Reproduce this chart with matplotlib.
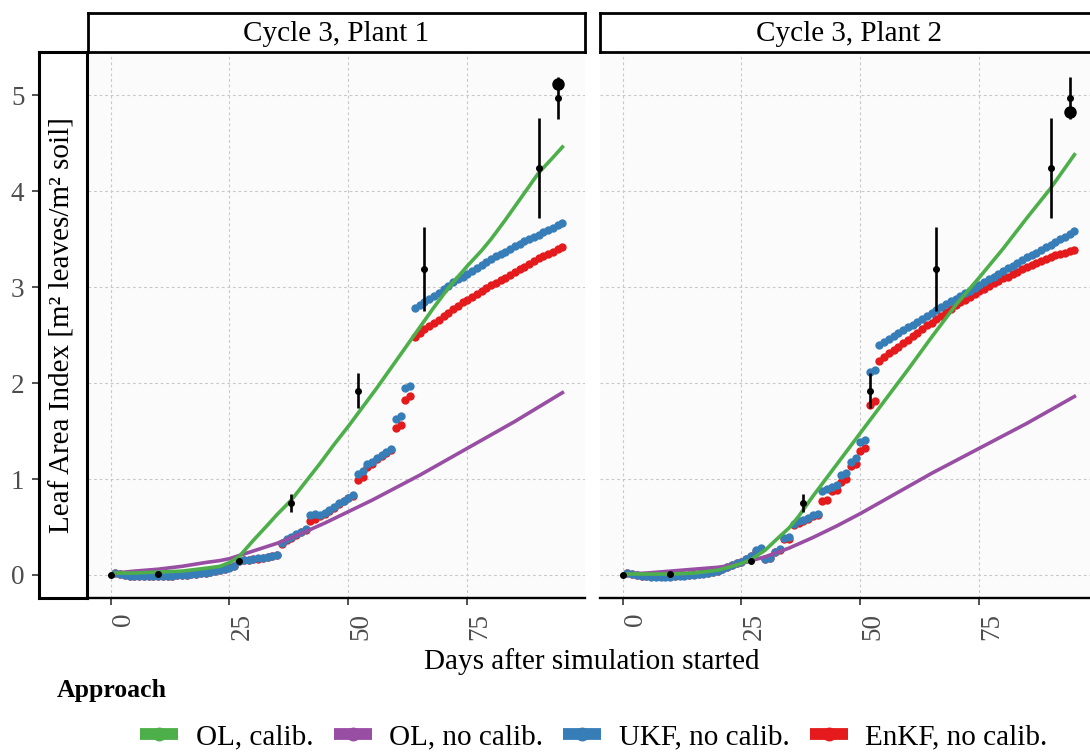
import matplotlib
matplotlib.use("Agg")
import matplotlib.pyplot as plt
from matplotlib.lines import Line2D
import numpy as np

plt.rcParams["font.family"] = ["Liberation Serif", "DejaVu Serif"]

# ---- data ----
days = list(range(1, 96))

# UKF / EnKF daily estimates
ukf_p1 = [0.02, 0.01, 0.00, -0.01, -0.01, -0.01, -0.01, -0.01, -0.01, -0.01,
          -0.01, -0.01, -0.01, 0.00, 0.00, 0.00, 0.01, 0.01, 0.02, 0.02,
          0.03, 0.04, 0.05, 0.06, 0.07, 0.09, 0.15, 0.16, 0.16, 0.17,
          0.18, 0.18, 0.19, 0.20, 0.21, 0.33, 0.37, 0.40, 0.43, 0.45,
          0.48, 0.63, 0.64, 0.62, 0.65, 0.68, 0.71, 0.75, 0.77, 0.80,
          0.83, 1.05, 1.08, 1.16, 1.18, 1.22, 1.25, 1.28, 1.31, 1.63,
          1.66, 1.95, 1.97, 2.78, 2.81, 2.84, 2.88, 2.91, 2.94, 2.98,
          3.01, 3.05, 3.08, 3.11, 3.14, 3.17, 3.20, 3.23, 3.26, 3.29,
          3.32, 3.35, 3.37, 3.40, 3.43, 3.45, 3.48, 3.50, 3.52, 3.54,
          3.57, 3.60, 3.62, 3.65, 3.67]
enkf_p1 = [0.02, 0.01, 0.00, -0.01, -0.01, -0.01, -0.01, -0.01, -0.01, -0.01,
           -0.01, -0.01, -0.01, 0.00, 0.00, 0.00, 0.01, 0.01, 0.02, 0.02,
           0.03, 0.04, 0.05, 0.06, 0.08, 0.09, 0.15, 0.16, 0.16, 0.17,
           0.17, 0.18, 0.19, 0.20, 0.21, 0.32, 0.36, 0.39, 0.42, 0.45,
           0.47, 0.56, 0.58, 0.61, 0.64, 0.67, 0.70, 0.74, 0.77, 0.80,
           0.82, 0.99, 1.02, 1.13, 1.16, 1.21, 1.24, 1.27, 1.30, 1.53,
           1.56, 1.82, 1.86, 2.48, 2.52, 2.56, 2.59, 2.63, 2.66, 2.70,
           2.73, 2.77, 2.80, 2.84, 2.87, 2.90, 2.93, 2.96, 2.99, 3.02,
           3.04, 3.07, 3.10, 3.13, 3.16, 3.19, 3.21, 3.24, 3.27, 3.30,
           3.32, 3.35, 3.37, 3.40, 3.42]
ukf_p2 = [0.02, 0.01, 0.00, -0.01, -0.01, -0.02, -0.02, -0.02, -0.02, -0.02,
          -0.01, -0.01, -0.01, 0.00, 0.00, 0.01, 0.01, 0.02, 0.03, 0.04,
          0.06, 0.08, 0.10, 0.12, 0.14, 0.17, 0.20, 0.26, 0.28, 0.17,
          0.18, 0.24, 0.27, 0.39, 0.40, 0.53, 0.56, 0.57, 0.59, 0.62,
          0.64, 0.88, 0.90, 0.92, 0.94, 1.04, 1.06, 1.18, 1.22, 1.39,
          1.41, 2.12, 2.14, 2.40, 2.43, 2.46, 2.49, 2.52, 2.55, 2.58,
          2.61, 2.64, 2.67, 2.70, 2.73, 2.76, 2.79, 2.82, 2.85, 2.88,
          2.91, 2.94, 2.96, 2.99, 3.02, 3.05, 3.08, 3.11, 3.14, 3.17,
          3.20, 3.22, 3.25, 3.28, 3.31, 3.33, 3.36, 3.39, 3.42, 3.44,
          3.47, 3.50, 3.52, 3.55, 3.58]
enkf_p2 = [0.02, 0.01, 0.00, -0.01, -0.01, -0.01, -0.01, -0.01, -0.01, -0.01,
           -0.01, 0.00, 0.00, 0.00, 0.01, 0.01, 0.02, 0.02, 0.03, 0.04,
           0.06, 0.08, 0.10, 0.12, 0.14, 0.17, 0.20, 0.25, 0.27, 0.17,
           0.18, 0.24, 0.26, 0.37, 0.38, 0.52, 0.54, 0.56, 0.58, 0.61,
           0.63, 0.77, 0.78, 0.87, 0.89, 0.97, 1.00, 1.14, 1.16, 1.29,
           1.32, 1.77, 1.81, 2.23, 2.27, 2.31, 2.34, 2.38, 2.42, 2.45,
           2.49, 2.52, 2.56, 2.60, 2.63, 2.67, 2.70, 2.74, 2.77, 2.81,
           2.84, 2.87, 2.90, 2.93, 2.96, 2.98, 3.01, 3.04, 3.06, 3.09,
           3.11, 3.14, 3.16, 3.19, 3.21, 3.23, 3.25, 3.27, 3.29, 3.31,
           3.33, 3.35, 3.36, 3.38, 3.39]

# open loop runs
ol_cal_days_p1 = [1, 5, 10, 15, 20, 23, 25, 27, 30, 33, 35, 38, 41, 44, 47, 50,
                  53, 56, 59, 62, 65, 68, 71, 75, 78, 80, 83, 86, 90, 93, 95]
ol_cal_p1 = [0.02, 0.02, 0.03, 0.04, 0.07, 0.09, 0.13, 0.19, 0.36, 0.52, 0.63,
             0.78, 0.97, 1.16, 1.36, 1.55, 1.75, 1.95, 2.16, 2.37, 2.58, 2.79,
             2.99, 3.22, 3.38, 3.50, 3.70, 3.91, 4.19, 4.35, 4.46]
ol_cal_days_p2 = [1, 5, 10, 15, 20, 23, 25, 27, 30, 33, 35, 37, 40, 45, 50, 55,
                  60, 65, 70, 75, 80, 85, 90, 95]
ol_cal_p2 = [0.01, 0.01, 0.01, 0.02, 0.05, 0.09, 0.12, 0.16, 0.26, 0.40, 0.49,
             0.61, 0.82, 1.15, 1.48, 1.81, 2.14, 2.48, 2.81, 3.10, 3.40, 3.72,
             4.03, 4.38]
ol_nocal_days = [1, 5, 10, 15, 20, 23, 25, 30, 35, 40, 45, 50, 55, 60, 65, 70,
                 75, 80, 85, 90, 95]
ol_nocal_p1 = [0.02, 0.04, 0.06, 0.09, 0.13, 0.15, 0.17, 0.25, 0.33, 0.43, 0.54,
               0.66, 0.78, 0.91, 1.04, 1.18, 1.32, 1.46, 1.60, 1.75, 1.90]
ol_nocal_p2 = [0.01, 0.02, 0.04, 0.06, 0.08, 0.10, 0.12, 0.19, 0.28, 0.39, 0.51,
               0.64, 0.78, 0.92, 1.06, 1.19, 1.32, 1.45, 1.58, 1.72, 1.86]

# measurements
obs_days = [0, 10, 27, 38, 52, 66, 90, 94]
obs_lai = [0.00, 0.01, 0.15, 0.75, 1.92, 3.19, 4.24, 4.97]
obs_err = [0.00, 0.00, 0.00, 0.09, 0.18, 0.44, 0.52, 0.22]
final_day = 94
final_p1 = 5.12
final_p2 = 4.82

panels = [
    ("Cycle 3, Plant 1", ukf_p1, enkf_p1, ol_cal_days_p1, ol_cal_p1, ol_nocal_p1, final_p1),
    ("Cycle 3, Plant 2", ukf_p2, enkf_p2, ol_cal_days_p2, ol_cal_p2, ol_nocal_p2, final_p2),
]

approaches = ["OL, calib.", "OL, no calib.", "UKF, no calib.", "EnKF, no calib."]
colors = ["#4DAF4A", "#984EA3", "#377EB8", "#E41A1C"]

# ---- layout (pixel boxes) ----
W, H = 1090, 752
def box(x0, y0, x1, y1) :
    return [x0 / W, 1 - y1 / H, (x1 - x0) / W, (y1 - y0) / H]

fig = plt.figure(figsize=(W / 100, H / 100), dpi=100)

xlims = (-4.75, 99.75)
ylims = (-0.24, 5.45)
tick_col = "#4D4D4D"

panel_boxes = [(88, 52, 585, 598), (600, 52, 1097, 598)]
strip_boxes = [(88, 13, 585, 52), (600, 13, 1097, 52)]

for i, (title, ukf, enkf, cal_days, cal, nocal, final) in enumerate(panels) :
    ax = fig.add_axes(box(*panel_boxes[i]))
    ax.set_facecolor("#FBFBFB")
    ax.set_xlim(xlims)
    ax.set_ylim(ylims)
    ax.set_xticks([0, 25, 50, 75])
    ax.set_xticklabels(["0", "25", "50", "75"], rotation=90, ha="left", va="top")
    ax.set_yticks([0, 1, 2, 3, 4, 5])
    ax.tick_params(axis="x", length=5, width=1.2, color="#333333", pad=5.5,
        labelsize=19.5, labelcolor=tick_col)
    ax.tick_params(axis="y", length=0, labelleft=False)
    ax.grid(True, color="#C8C8C8", linestyle=(0, (2.5, 2.5)), linewidth=0.8)
    ax.set_axisbelow(True)
    for s in ["top", "right", "left"] :
        ax.spines[s].set_visible(False)
    ax.spines["bottom"].set_linewidth(1.7)
    ax.spines["bottom"].set_color("black")

    # filters drawn as daily points
    ax.plot(days, enkf, "o", color=colors[3], markersize=6, markeredgewidth=0, zorder=3)
    ax.plot(days, ukf, "o", color=colors[2], markersize=6, markeredgewidth=0, zorder=3)
    # open loop lines
    ax.plot(ol_nocal_days, nocal, color=colors[1], linewidth=2.6, zorder=4)
    ax.plot(cal_days, cal, color=colors[0], linewidth=2.6, zorder=4)

    # measurements
    ax.errorbar(obs_days, obs_lai, yerr=obs_err, fmt="o", color="k",
        markersize=4, elinewidth=1.9, capsize=0, zorder=5)
    ax.plot([final_day], [final], "o", color="k", markersize=8, zorder=5)

    # facet strip
    st = fig.add_axes(box(*strip_boxes[i]))
    st.set_xticks([])
    st.set_yticks([])
    st.set_facecolor("white")
    for s in st.spines.values() :
        s.set_linewidth(2)
        s.set_color("black")
    st.text(0.5, 0.47, title, ha="center", va="center", size=21, transform=st.transAxes)

# boxed y axis title
yb = fig.add_axes(box(39, 52, 87, 598))
yb.set_ylim(ylims)
yb.set_xlim(0, 1)
yb.set_xticks([])
yb.set_yticks([0, 1, 2, 3, 4, 5])
yb.tick_params(axis="y", length=5, width=1.2, color="#333333", pad=5.5,
    labelsize=19.5, labelcolor=tick_col)
for s in yb.spines.values() :
    s.set_linewidth(2.2)
    s.set_color("black")
yb.text(0.5, 0.5, "Leaf Area Index [m² leaves/m² soil]", rotation=90,
    ha="center", va="center", size=21, transform=yb.transAxes)

fig.text(592 / W, 1 - 662 / H, "Days after simulation started",
    ha="center", va="center", size=21)

# legend
fig.text(57 / W, 1 - 691 / H, "Approach", ha="left", va="center",
    size=18.5, weight="bold")
handles = [Line2D([0], [0], color=c, linewidth=8.5, marker="o", markersize=9,
    solid_capstyle="butt") for c in colors]
fig.legend(handles, approaches, loc="center", bbox_to_anchor=(594 / W, 1 - 737 / H),
    ncol=4, frameon=False, fontsize=21, handlelength=1.3, handletextpad=0.6,
    columnspacing=0.7, borderpad=0, borderaxespad=0)

fig.savefig("out.png", dpi=100)
